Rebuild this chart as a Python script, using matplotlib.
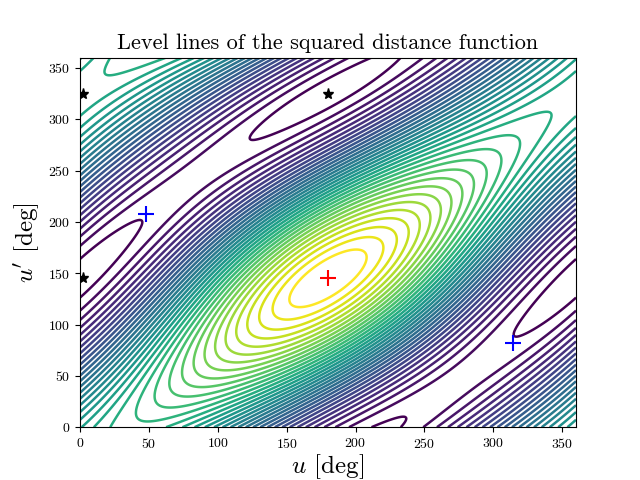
import numpy as np
import matplotlib
matplotlib.use("Agg")
import matplotlib.pyplot as plt

plt.rcParams['font.family'] = 'serif'
plt.rcParams['font.serif'] = ['cmr10']
plt.rcParams['mathtext.fontset'] = 'cm'
plt.rcParams['axes.formatter.use_mathtext'] = True

# model parameters of the squared distance function
u_max, up_max = 180.0, 145.0
coupling = 0.9
a_coef, b_coef = 0.5, 0.5
n_levels = 36

max_pt = [(180, 145)]
min_pts = [(48, 208), (314, 82)]
saddle_pts = [(2, 325), (180, 325), (2, 145)]

u = np.linspace(0, 360, 500)
up = np.linspace(0, 360, 500)
U, UP = np.meshgrid(u, up)
x = np.radians(U - u_max)
y = np.radians(UP - up_max)
F = 2 * (np.cos(x) * np.cos(y) + coupling * np.sin(x) * np.sin(y)) + a_coef * np.cos(x) + b_coef * np.cos(y)

fig, ax = plt.subplots(figsize=(6.4, 4.8), dpi=100)
levels = np.linspace(F.min() + 0.08, F.max(), n_levels)[:-1]
ax.contour(U, UP, F, levels=levels, cmap='viridis', linewidths=1.8)
ax.plot(*zip(*max_pt), '+', color='red', ms=11, mew=1.5)
ax.plot(*zip(*min_pts), '+', color='blue', ms=11, mew=1.5, ls='none')
ax.plot(*zip(*saddle_pts), '*', color='black', ms=8, ls='none')
ax.set_xlim(0, 360)
ax.set_ylim(0, 360)
ax.set_xticks(range(0, 351, 50))
ax.set_yticks(range(0, 351, 50))
ax.set_xlabel(r"$u$ [deg]", fontsize=18, labelpad=1)
ax.set_ylabel(r"$u'$ [deg]", fontsize=18)
ax.set_title("Level lines of the squared distance function", fontsize=16)
fig.savefig("out.png")
